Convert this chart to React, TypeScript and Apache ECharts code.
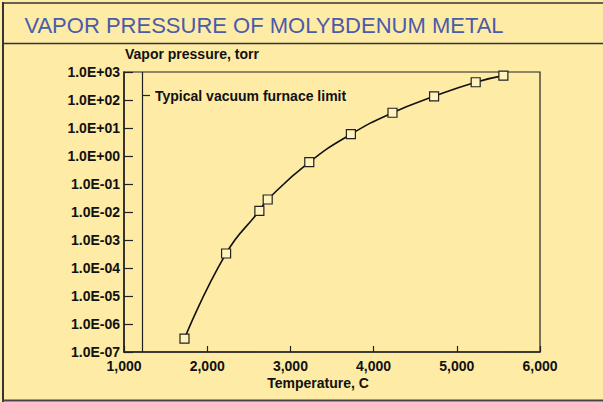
import React, { useEffect, useRef } from "react";
import * as echarts from "echarts";

const temperatures = [1727, 2227, 2627, 2727, 3227, 3727, 4227, 4727, 5227, 5560];
const pressures = [3e-7, 3.3e-4, 1.1e-2, 2.8e-2, 0.6, 6, 35, 135, 430, 740];
const furnaceLimit = 1220;
const xTicks = [1000, 2000, 3000, 4000, 5000, 6000];
const yRange = [1e-7, 1e3];

const BG = "#FEEBA6";
const DARK = "#222";
const FONT = "Liberation Sans, Arial, sans-serif";

function fmtExp(v: number): string {
  const e = Math.round(Math.log10(v));
  const sign = e < 0 ? "-" : "+";
  const a = Math.abs(e);
  return `1.0E${sign}${a < 10 ? "0" + a : a}`;
}

export default function App() {
  const ref = useRef<HTMLDivElement>(null);
  useEffect(() => {
    if (!ref.current) return;
    const chart = echarts.init(ref.current, undefined, { renderer: "svg" });
    chart.setOption({
      animation: false,
      backgroundColor: BG,
      textStyle: { fontFamily: FONT },
      grid: {
        left: 124,
        right: 63,
        top: 72,
        bottom: 50,
        show: true,
        borderColor: DARK,
        borderWidth: 1.2,
        backgroundColor: "transparent",
      },
      xAxis: {
        type: "value",
        min: xTicks[0],
        max: xTicks[xTicks.length - 1],
        interval: 1000,
        axisLine: { show: true, lineStyle: { color: DARK, width: 1.5 } },
        axisTick: { show: true, inside: true, length: 6, lineStyle: { color: DARK, width: 1.2 } },
        splitLine: { show: false },
        axisLabel: {
          color: "#111",
          fontSize: 14,
          fontWeight: "bold",
          fontFamily: FONT,
          margin: 7,
          formatter: (v: number) => v.toLocaleString("en-US"),
        },
      },
      yAxis: {
        type: "log",
        logBase: 10,
        min: yRange[0],
        max: yRange[1],
        interval: 1,
        axisLine: { show: true, lineStyle: { color: DARK, width: 1.5 } },
        axisTick: { show: true, inside: true, length: 9, lineStyle: { color: DARK, width: 1.2 } },
        minorTick: { show: false },
        splitLine: { show: false },
        axisLabel: {
          color: "#111",
          fontSize: 14,
          fontWeight: "bold",
          fontFamily: FONT,
          margin: 4,
          formatter: (v: number) => fmtExp(v),
        },
      },
      series: [
        {
          type: "line",
          data: temperatures.map((t, i) => [t, pressures[i]]),
          smooth: 0.5,
          symbol: "rect",
          symbolSize: 9,
          showAllSymbol: true,
          lineStyle: { color: "#111", width: 1.6 },
          itemStyle: { color: "#FFF3BE", borderColor: "#222", borderWidth: 1.2 },
          z: 3,
          markLine: {
            silent: true,
            symbol: ["none", "none"],
            label: { show: false },
            lineStyle: { color: DARK, width: 1.2, type: "solid" },
            data: [{ xAxis: furnaceLimit }],
          },
        },
      ],
      graphic: [
        { type: "line", shape: { x1: 2, y1: 3, x2: 603, y2: 3 }, style: { stroke: "#333", lineWidth: 1.5 } },
        { type: "line", shape: { x1: 3, y1: 2, x2: 3, y2: 402 }, style: { stroke: "#333", lineWidth: 2 } },
        { type: "line", shape: { x1: 2, y1: 400.5, x2: 603, y2: 400.5 }, style: { stroke: "#444", lineWidth: 2 } },
        { type: "line", shape: { x1: 3, y1: 43.5, x2: 603, y2: 43.5 }, style: { stroke: "#333", lineWidth: 1.3 } },
        {
          type: "text",
          x: 264,
          y: 25,
          style: {
            text: "VAPOR PRESSURE OF MOLYBDENUM METAL",
            fill: "#4A5BAA",
            font: `22px ${FONT}`,
            align: "center",
            verticalAlign: "middle",
          },
        },
        {
          type: "text",
          x: 125,
          y: 54,
          style: {
            text: "Vapor pressure, torr",
            fill: "#111",
            font: `bold 14px ${FONT}`,
            align: "left",
            verticalAlign: "middle",
          },
        },
        {
          type: "text",
          x: 318,
          y: 383,
          style: {
            text: "Temperature, C",
            fill: "#111",
            font: `bold 14px ${FONT}`,
            align: "center",
            verticalAlign: "middle",
          },
        },
        { type: "line", shape: { x1: 142, y1: 95.5, x2: 150, y2: 95.5 }, style: { stroke: DARK, lineWidth: 1.2 } },
        {
          type: "text",
          x: 155,
          y: 96,
          style: {
            text: "Typical vacuum furnace limit",
            fill: "#111",
            font: `bold 14px ${FONT}`,
            align: "left",
            verticalAlign: "middle",
          },
        },
      ],
    });
    return () => chart.dispose();
  }, []);
  return (
    <div
      ref={ref}
      style={{ position: "fixed", left: 0, top: 0, width: 603, height: 402 }}
    />
  );
}
